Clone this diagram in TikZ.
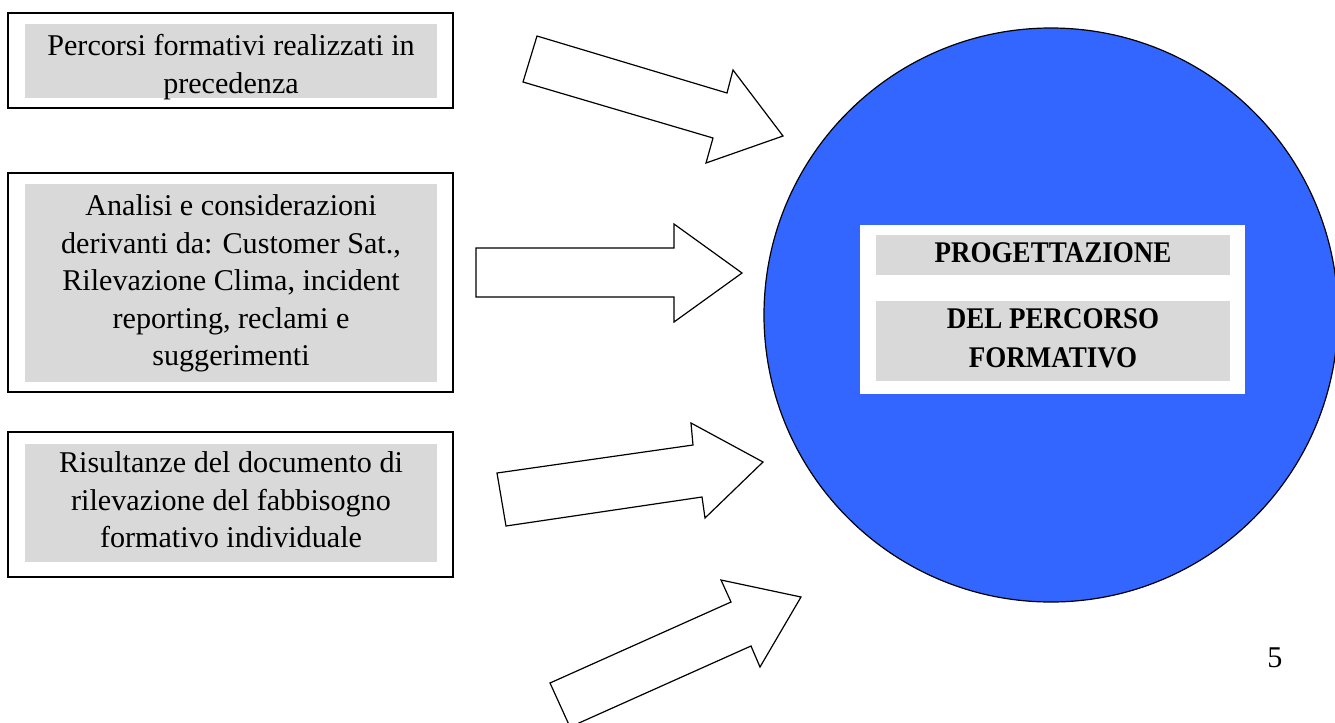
\documentclass[tikz,border=0pt]{standalone}
\usepackage{fontspec}
\setmainfont{Liberation Serif}
\newfontfamily\titlefont{Liberation Serif}[FakeStretch=0.9]
\definecolor{boxgray}{HTML}{D9D9D9}
\definecolor{circblue}{HTML}{3366FF}
\begin{document}
\begin{tikzpicture}[x=0.75pt,y=-0.75pt,
  frame/.style={draw=black, line width=1.1pt, fill=white},
  graybox/.style={fill=boxgray},
  bodytext/.style={align=center, inner sep=0pt, font=\fontsize{22.6}{28.2}\selectfont},
  titletext/.style={align=center, inner sep=0pt, font=\titlefont\bfseries\fontsize{22.5}{29.3}\selectfont},
  blockarrow/.style={draw=black, line width=0.9pt, fill=white, line join=miter}]
\useasboundingbox (0,0) rectangle (1335,722);
\clip (0,0) rectangle (1335,722);

% left boxes
\draw[frame] (8,13) rectangle (453,108);
\fill[graybox] (25,24) rectangle (437,98);
\node[bodytext] (t1) at (231,67) {Percorsi formativi realizzati in\\precedenza};

\draw[frame] (8,173) rectangle (453,392);
\fill[graybox] (25,184) rectangle (437,382);
\node[bodytext] (t2) at (231,283.5) {Analisi e considerazioni\\derivanti da: Customer Sat.,\\Rilevazione Clima, incident\\reporting, reclami e\\suggerimenti};

\draw[frame] (8,432) rectangle (453,577);
\fill[graybox] (25,444) rectangle (437,562);
\node[bodytext] (t3) at (231,500) {Risultanze del documento di\\rilevazione del fabbisogno\\formativo individuale};

% circle
\node[circle, draw=black, line width=0.9pt, fill=circblue, minimum size=430.5pt, inner sep=0pt] (hub) at (1051,315) {};
\fill[white] (860,225) rectangle (1245,394);
\fill[graybox] (876,235) rectangle (1230,275);
\fill[graybox] (876,301) rectangle (1230,381);
\node[titletext] (p1) at (1053,253) {PROGETTAZIONE};
\node[titletext] (p2) at (1053,338.5) {DEL PERCORSO\\FORMATIVO};

% block arrows
\draw[blockarrow] (537,36) -- (727,93) -- (733,70) -- (783,136) -- (706,163) -- (713,138) -- (523,82) -- cycle;
\draw[blockarrow] (476,248) -- (674,248) -- (674,224) -- (742,273) -- (674,322) -- (674,297) -- (476,297) -- cycle;
\draw[blockarrow] (497,473) -- (693,445) -- (691,423) -- (763,462) -- (705,518) -- (702,497) -- (506,526) -- cycle;
\draw[blockarrow] (550,683) -- (731,602) -- (721,580) -- (801,597) -- (760,667) -- (751,646) -- (570,727) -- cycle;

% page number
\node[font=\fontsize{22.6}{25}\selectfont, anchor=base, inner sep=0pt] (pg) at (1275,667) {5};
\end{tikzpicture}
\end{document}
